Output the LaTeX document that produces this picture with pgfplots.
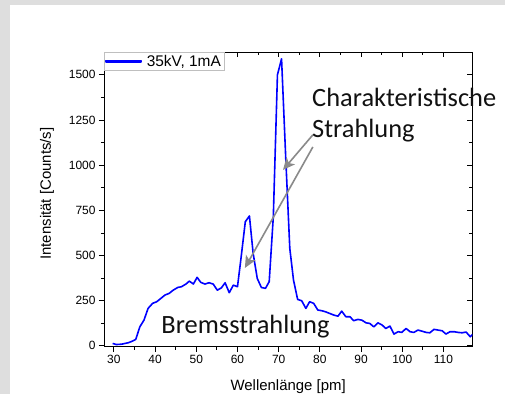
\documentclass[border=0pt]{standalone}
\usepackage{pgfplots}
\pgfplotsset{compat=1.18}
\usepackage{fontspec}
\setmainfont{Liberation Sans}
\newfontfamily\calibri{Carlito}
\usetikzlibrary{arrows.meta}
\definecolor{bggray}{HTML}{DEDEDE}
\definecolor{arrgray}{HTML}{8A8A8A}
\definecolor{txt}{HTML}{111111}
\definecolor{myblue}{RGB}{0,0,255}
\pgfplotstableread{
x y
29.7 13
30.6 7
31.9 9
33.5 17
34.3 24
35.3 35
36.3 105
37.3 142
38.3 207
39.4 235
40.4 244
41.6 266
42.4 281
43.4 290
44.4 308
45.5 323
46.4 327
47.5 342
48.3 358
49.3 342
50.2 379
51.1 351
52.1 342
53.1 349
54.1 342
55.1 308
56.1 321
57.0 349
58.0 294
59.0 336
60.0 327
60.9 493
61.9 687
62.9 719
63.8 512
64.8 373
65.8 323
66.8 318
67.7 355
68.7 715
69.7 1500
70.7 1589
71.7 1047
72.7 539
73.6 364
74.6 257
75.6 249
76.6 207
77.5 244
78.5 235
79.5 198
80.5 194
81.4 188
82.4 179
83.4 170
84.4 164
85.3 192
86.3 161
87.3 161
88.2 139
89.2 146
90.2 142
91.2 127
92.1 124
93.1 105
94.1 127
95.1 115
96.0 96
97.0 109
98.0 65
99.0 78
99.9 74
100.9 96
101.9 78
102.8 74
103.8 87
104.8 81
105.8 74
106.7 72
107.7 91
108.7 87
109.7 83
110.6 65
111.6 78
112.6 78
113.6 74
114.5 72
115.5 76
116.5 50
117.1 63
}\spectrum
\begin{document}
\begin{tikzpicture}
\path[use as bounding box] (0,0) rectangle (505bp,394bp);
\fill[bggray] (0,0) rectangle (505bp,394bp);
\fill[white] (10bp,0) rectangle (505bp,389bp);
\pgfplotsset{
  myaxis/.style={
    at={(104bp,47.3bp)}, anchor=south west,
    scale only axis, width=368.3bp, height=294.4bp,
    xmin=27.6, xmax=117, ymin=-5, ymax=1625,
    xtick={30,40,...,110}, ytick={0,250,...,1500},
    minor x tick num=1, minor y tick num=1,
    major tick length=5bp, minor tick length=3bp,
    axis line style={line width=0.8bp, black},
    /pgf/number format/1000 sep={},
    /pgf/number format/assume math mode=true,
    tick label style={font=\fontsize{12}{14}\selectfont, text=black},
  }
}
\begin{axis}[myaxis,
  xtick pos=right, ytick pos=right, tick align=inside,
  xticklabels={}, yticklabels={}, tick style={line width=0.8bp, black}]
\end{axis}
\begin{axis}[myaxis,
  xtick pos=left, ytick pos=left, tick align=outside,
  tick style={line width=0.8bp, black},
  clip mode=individual,
  xlabel={Wellenlänge [pm]},
  ylabel={Intensität [Counts/s]},
  label style={font=\fontsize{15}{17}\selectfont},
  xlabel style={at={(axis description cs:0.5,0)}, anchor=base, yshift=-44bp},
  ylabel style={at={(axis description cs:-0.155,0.52)}, anchor=center},
  legend style={at={(0,1)}, anchor=north west, draw=gray!50,
    font=\fontsize{15.5}{17}\selectfont, inner xsep=1bp, inner ysep=0.5bp,
    nodes={inner sep=2bp}, cells={anchor=west}},
  legend image code/.code={\fill[myblue] (0bp,-0.8bp) rectangle (35bp,0.8bp); \path (38bp,0bp);},
]
\addplot[draw=myblue, line width=1.6bp, line join=round] table[x=x,y=y] {\spectrum};
\addlegendentry{35kV, 1mA}
\draw[arrgray, line width=1.6bp, -{Stealth[length=12bp,width=11bp,inset=3bp]}] (axis cs:78.3,1168) -- (axis cs:71.05,974);
\draw[arrgray, line width=1.6bp, -{Stealth[length=12bp,width=11bp,inset=3bp]}] (axis cs:78.3,1101) -- (axis cs:61.8,431);
\node[anchor=base west, inner sep=0pt, text=txt, font=\calibri\fontsize{26.5}{31}\selectfont] at (axis cs:78.1,1323) {Charakteristische};
\node[anchor=base west, inner sep=0pt, text=txt, font=\calibri\fontsize{26.5}{31}\selectfont] at (axis cs:78.1,1151) {Strahlung};
\node[anchor=base west, inner sep=0pt, text=txt, font=\calibri\fontsize{26.5}{31}\selectfont] at (axis cs:41.5,70) {Bremsstrahlung};
\end{axis}
\end{tikzpicture}
\end{document}
